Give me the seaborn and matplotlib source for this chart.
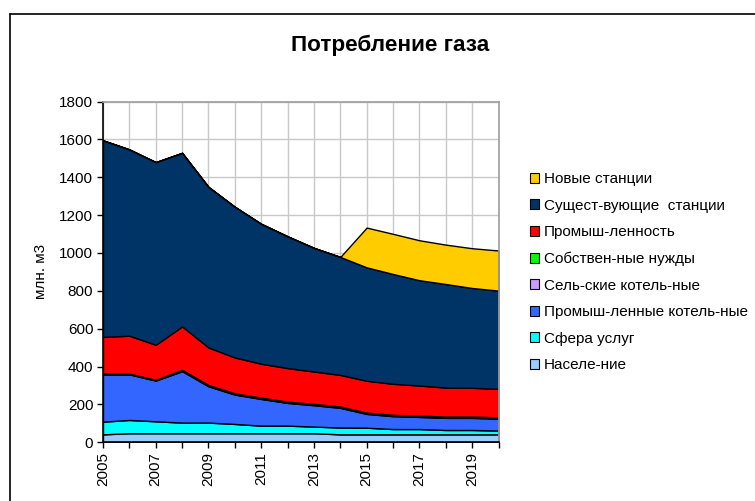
import numpy as np
import pandas as pd
import matplotlib
matplotlib.use("Agg")
import matplotlib.pyplot as plt
import seaborn as sns
from matplotlib.lines import Line2D
from matplotlib.patches import Patch

years = list(range(2005, 2021))

# млн. м3 (layers bottom to top)
naselenie = [42, 48, 48, 48, 48, 48, 48, 48, 48, 42, 42, 42, 42, 42, 42, 42]
sfera_uslug = [67, 70, 63, 56, 56, 49, 40, 40, 35, 36, 35, 28, 28, 23, 23, 20]
prom_kotelnye = [250, 241, 215, 272, 192, 155, 141, 120, 113, 104, 73, 68, 64, 64, 64, 63]
selskie_kotelnye = [2, 2, 2, 3, 3, 3, 3, 3, 3, 3, 3, 3, 3, 3, 3, 3]
sobstv_nuzhdy = [2, 2, 2, 4, 4, 4, 4, 4, 4, 4, 4, 4, 4, 4, 4, 4]
promyshlennost = [194, 200, 185, 229, 198, 189, 179, 177, 171, 167, 168, 164, 159, 153, 152, 150]
sushch_stancii = [1038, 984, 965, 917, 848, 796, 739, 696, 653, 623, 599, 580, 556, 547, 527, 519]
novye_stancii = [0, 0, 0, 0, 0, 0, 0, 0, 0, 0, 210, 212, 211, 208, 210, 212]

labels = ["Населе-ние", "Сфера услуг", "Промыш-ленные котель-ные",
          "Сель-ские котель-ные", "Собствен-ные нужды", "Промыш-ленность",
          "Сущест-вующие  станции", "Новые станции"]
colors = ["#99CCFF", "#00FFFF", "#3366FF", "#CC99FF", "#00FF00",
          "#FF0000", "#003366", "#FFCC00"]

df = pd.DataFrame({
    "year": years,
    labels[0]: naselenie,
    labels[1]: sfera_uslug,
    labels[2]: prom_kotelnye,
    labels[3]: selskie_kotelnye,
    labels[4]: sobstv_nuzhdy,
    labels[5]: promyshlennost,
    labels[6]: sushch_stancii,
    labels[7]: novye_stancii,
})

sns.set_theme(style="white", rc={"text.color": "black", "axes.labelcolor": "black",
                                 "xtick.color": "black", "ytick.color": "black"})
plt.rcParams["font.family"] = ["Liberation Sans", "DejaVu Sans"]

fig = plt.figure(figsize=(7.55, 5.01), dpi=100)
ax = fig.add_axes([103 / 755, 1 - 442.3 / 501, 395.5 / 755, 340.8 / 501])

ax.stackplot(df["year"], [df[l] for l in labels], colors=colors,
             edgecolor="black", linewidth=1.0, zorder=2)

ax.set_xlim(2005, 2020)
ax.set_ylim(0, 1800)
ax.set_xticks(years)
ax.set_xticklabels([str(y) if (y - 2005) % 2 == 0 else "" for y in years],
                   rotation=90, fontsize=11)
ax.set_yticks(range(0, 1801, 200))
ax.tick_params(axis="y", labelsize=11, length=4, width=1, color="black",
               direction="out", left=True, pad=3)
ax.tick_params(axis="x", length=4, width=1, color="black", direction="out",
               bottom=True, pad=3)
ax.grid(True, color="#C8C8C8", linewidth=1, zorder=0)
ax.set_axisbelow(True)
for s in ["top", "right"]:
    ax.spines[s].set_color("#A0A0A0")
for s in ["left", "bottom"]:
    ax.spines[s].set_color("black")
    ax.spines[s].set_linewidth(1.2)
for s in ax.spines.values():
    s.set_zorder(3)

ax.set_ylabel("млн. м3", fontsize=11, labelpad=8)

fig.text(390 / 755, 1 - 45 / 501, "Потребление газа", ha="center", va="center",
         fontsize=16.2, fontweight="bold", color="black")

handles = [Patch(facecolor=c, edgecolor="black", linewidth=0.8, label=l)
           for l, c in zip(labels, colors)][::-1]
fig.legend(handles=handles, loc="upper left", bbox_to_anchor=(524 / 755, 1 - 166 / 501),
           frameon=False, fontsize=11, handlelength=0.6, handleheight=0.6,
           handletextpad=0.3, labelspacing=0.82, borderaxespad=0)

# outer chart border (left and top visible)
fig.add_artist(Line2D([9.5 / 755, 9.5 / 755], [0, 1 - 13.5 / 501],
                      transform=fig.transFigure, color="black", linewidth=1.2))
fig.add_artist(Line2D([9.5 / 755, 1], [1 - 13.5 / 501, 1 - 13.5 / 501],
                      transform=fig.transFigure, color="black", linewidth=1.2))

fig.savefig("out.png", dpi=100)
